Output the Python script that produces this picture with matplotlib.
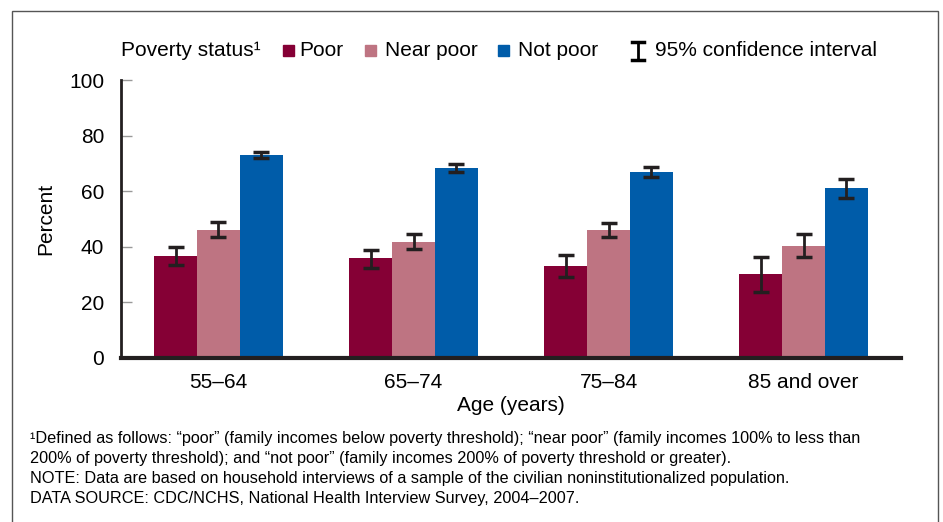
import numpy as np
import matplotlib.pyplot as plt
from matplotlib.patches import Rectangle
from matplotlib.lines import Line2D

plt.rcParams['font.family'] = ['Liberation Sans', 'DejaVu Sans']

# Data
ages = ["55\u201364", "65\u201374", "75\u201384", "85 and over"]
series = ["Poor", "Near poor", "Not poor"]
colors = ["#850035", "#BE7482", "#005CA9"]

poor = [36.7, 35.9, 33.0, 30.2]
poor_lo = [33.4, 32.3, 29.0, 23.7]
poor_hi = [39.8, 38.8, 37.2, 36.4]

near_poor = [46.0, 41.7, 46.0, 40.3]
near_lo = [43.6, 39.2, 43.6, 36.4]
near_hi = [48.8, 44.6, 48.5, 44.6]

not_poor = [73.0, 68.3, 66.9, 61.2]
not_lo = [71.9, 66.8, 65.0, 57.6]
not_hi = [74.1, 69.8, 68.8, 64.5]

values = [poor, near_poor, not_poor]
lows = [poor_lo, near_lo, not_lo]
highs = [poor_hi, near_hi, not_hi]

fs = 15

fig = plt.figure(figsize=(9.43, 5.22), dpi=100)
ax = fig.add_axes([0.1283, 0.3142, 0.8272, 0.5325])

x = np.arange(len(ages))
w = 0.22
for i, (vals, lo, hi) in enumerate(zip(values, lows, highs)):
    vals = np.array(vals)
    pos = x + (i - 1) * w
    ax.bar(pos, vals, width=w, color=colors[i], zorder=2)
    err = [vals - np.array(lo), np.array(hi) - vals]
    ax.errorbar(pos, vals, yerr=err, fmt="none", ecolor="#231f20",
                elinewidth=2, capsize=5.5, capthick=2.5, zorder=3)

ax.set_xlim(-0.5, 3.5)
ax.set_ylim(0, 100)
ax.set_yticks([0, 20, 40, 60, 80, 100])
ax.set_xticks(x)
ax.set_xticklabels(ages)
ax.tick_params(axis="y", direction="in", length=8, width=1, labelsize=fs,
               pad=12, color="#999999")
ax.tick_params(axis="x", length=0, labelsize=fs, pad=11)
for s in ["top", "right"]:
    ax.spines[s].set_visible(False)
ax.spines["left"].set_linewidth(2)
ax.spines["left"].set_color("#231f20")
ax.spines["bottom"].set_linewidth(3)
ax.spines["bottom"].set_color("#231f20")
ax.set_ylabel("Percent", fontsize=fs, labelpad=10)
ax.set_xlabel("Age (years)", fontsize=fs, labelpad=3)

# Legend row
ly = 1 - 50 / 522
fig.text(121 / 943, ly, "Poverty status\u00b9", fontsize=fs, va="center")
sq_x = [283, 365, 498]
lab_x = [299, 385, 518]
for sx, tx, c, name in zip(sq_x, lab_x, colors, series):
    fig.patches.append(Rectangle((sx / 943, 1 - 56 / 522), 11 / 943, 11 / 522,
                                 transform=fig.transFigure, color=c))
    fig.text(tx / 943, ly, name, fontsize=fs, va="center")
cx = 638 / 943
fig.lines.append(Line2D([cx, cx], [1 - 42 / 522, 1 - 60 / 522],
                        transform=fig.transFigure, color="black", lw=2))
for yy in [42, 60]:
    fig.lines.append(Line2D([cx - 6 / 943, cx + 6 / 943], [1 - yy / 522] * 2,
                            transform=fig.transFigure, color="black", lw=2.5))
fig.text(655 / 943, ly, "95% confidence interval", fontsize=fs, va="center")

# Footnotes
notes = [
    "\u00b9Defined as follows: \u201cpoor\u201d (family incomes below poverty threshold); "
    "\u201cnear poor\u201d (family incomes 100% to less than",
    "200% of poverty threshold); and \u201cnot poor\u201d (family incomes 200% of poverty threshold or greater).",
    "NOTE: Data are based on household interviews of a sample of the civilian noninstitutionalized population.",
    "DATA SOURCE: CDC/NCHS, National Health Interview Survey, 2004\u20132007.",
]
for k, line in enumerate(notes):
    fig.text(30 / 943, 1 - (439 + 19.7 * k) / 522, line, fontsize=11.7, va="center")

# Outer frame
fig.patches.append(Rectangle((12 / 943, -0.05), 926 / 943, 1.05 - 11 / 522,
                             transform=fig.transFigure, fill=False,
                             edgecolor="#555555", lw=1))

fig.savefig("out.png", dpi=100)
